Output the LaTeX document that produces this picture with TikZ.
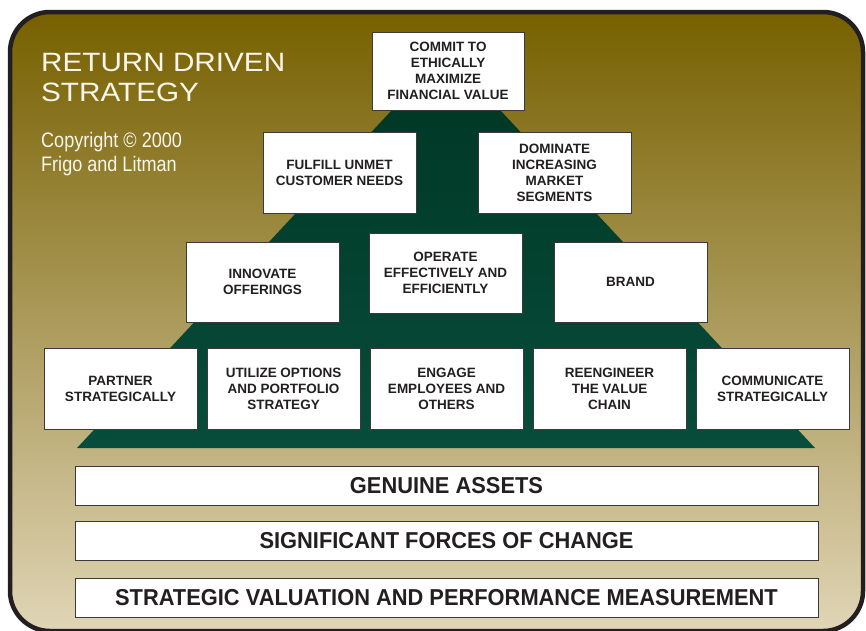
\documentclass[tikz,border=0pt]{standalone}
\usepackage{fontspec}
\setmainfont{Liberation Sans}
\newfontfamily\titlefont[FakeStretch=1.12]{Liberation Sans}
\newfontfamily\notefont[FakeStretch=0.86]{Liberation Sans}
\newfontfamily\barfont[FakeStretch=0.95]{Liberation Sans}
\usetikzlibrary{positioning}

\definecolor{frameline}{HTML}{231F20}
\definecolor{inktext}{HTML}{231F20}
\definecolor{boxline}{HTML}{3A3A3A}
\definecolor{titlewhite}{HTML}{FAF6EC}
\definecolor{goldtop}{HTML}{766000}
\definecolor{goldmid}{HTML}{A08A52}
\definecolor{goldbot}{HTML}{E0D5B6}
\definecolor{greentop}{HTML}{003523}
\definecolor{greenbot}{HTML}{074D3B}

\begin{document}
\begin{tikzpicture}[x=1pt, y=-1pt, node distance=163pt, on grid,
    box/.style={draw=boxline, line width=1pt, fill=white, text=inktext, align=center,
        minimum width=153pt, minimum height=81pt, inner sep=2pt,
        font=\fontsize{13.5}{16}\selectfont\bfseries},
    bar/.style={draw=boxline, line width=1pt, fill=white, text=inktext,
        minimum width=743pt, minimum height=39pt,
        font=\barfont\fontsize{23}{26}\selectfont\bfseries},
    heading/.style={anchor=north west, inner sep=0pt, text=titlewhite, align=left}]
            \useasboundingbox (0,0) rectangle (866,630);
            \shade[top color=goldtop, middle color=goldmid, bottom color=goldbot, rounded corners=40pt] (10,12) rectangle (863,631);
            \draw[frameline, line width=4.5pt, rounded corners=40pt] (10,12) rectangle (863,631);
            \shade[top color=greentop, bottom color=greenbot] (446,52) -- (815,448) -- (77,448) -- cycle;
            \node[heading, font=\titlefont\fontsize{26.5}{30}\selectfont] (title) at (41,53) {RETURN DRIVEN\\STRATEGY};
            \node[heading, font=\notefont\fontsize{21}{24}\selectfont] (copyright) at (41,132) {Copyright © 2000\\Frigo and Litman};
            \node[box, minimum width=152pt, minimum height=78pt] (commit) at (448,71) {COMMIT TO\\ETHICALLY\\MAXIMIZE\\FINANCIAL VALUE};
            \node[box] (fulfill) at (339.5,172.5) {FULFILL UNMET\\CUSTOMER NEEDS};
            \node[box] (dominate) at (554.5,172.5) {DOMINATE\\INCREASING\\MARKET\\SEGMENTS};
            \node[box, minimum height=80pt] (innovate) at (262.5,282) {INNOVATE\\OFFERINGS};
            \node[box, minimum height=80pt] (operate) at (445.5,273) {OPERATE\\EFFECTIVELY AND\\EFFICIENTLY};
            \node[box, minimum height=80pt] (brand) at (630.5,282) {BRAND};
            \node[box] (partner) at (120.5,388.5) {PARTNER\\STRATEGICALLY};
            \node[box, right of = partner] (utilize) {UTILIZE OPTIONS\\AND PORTFOLIO\\STRATEGY};
            \node[box, right of = utilize] (engage) {ENGAGE\\EMPLOYEES AND\\OTHERS};
            \node[box, right of = engage] (reengineer) {REENGINEER\\THE VALUE\\CHAIN};
            \node[box, right of = reengineer] (communicate) {COMMUNICATE\\STRATEGICALLY};
            \node[bar] (assets) at (446.5,485.5) {GENUINE ASSETS};
            \node[bar, below=55.5pt of assets] (forces) {SIGNIFICANT FORCES OF CHANGE};
            \node[bar, below=57pt of forces] (valuation) {STRATEGIC VALUATION AND PERFORMANCE MEASUREMENT};
        \end{tikzpicture}
\end{document}
